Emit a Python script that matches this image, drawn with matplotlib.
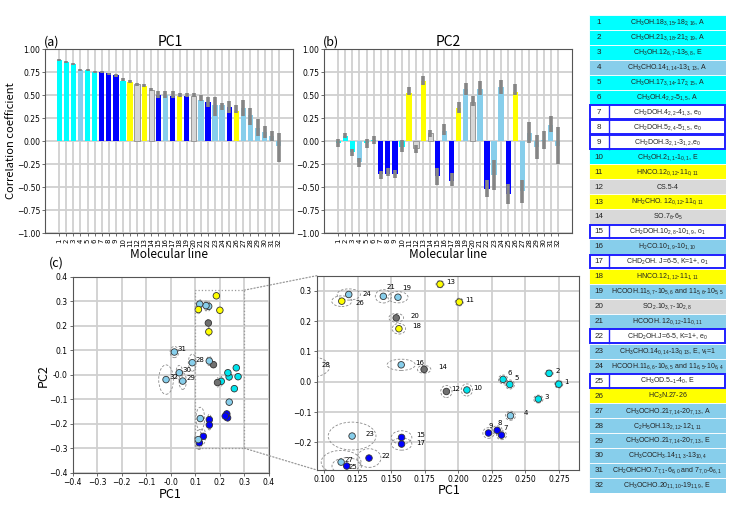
import matplotlib
matplotlib.use('Agg')
import matplotlib.pyplot as plt
from matplotlib.patches import Ellipse, Rectangle, ConnectionPatch
import numpy as np

plt.rcParams['font.family'] = ['DejaVu Sans']
plt.rcParams['mathtext.fontset'] = 'custom'
plt.rcParams['mathtext.rm'] = 'Liberation Sans'
plt.rcParams['mathtext.it'] = 'Liberation Sans:italic'
plt.rcParams['mathtext.default'] = 'regular'

# ---------------- data ----------------
lines = list(range(1, 33))

pc1_val = [0.885, 0.863, 0.84, 0.78, 0.77, 0.75, 0.75, 0.737, 0.72, 0.66, 0.643, 0.62,
           0.60, 0.56, 0.505, 0.505, 0.495, 0.495, 0.495, 0.49, 0.45, 0.43, 0.39, 0.39,
           0.375, 0.33, 0.365, 0.29, 0.15, 0.10, 0.055, -0.055]
pc1_lo = [0.87, 0.855, 0.83, 0.76, 0.76, 0.74, 0.74, 0.72, 0.70, 0.655, 0.635, 0.605,
          0.59, 0.55, 0.47, 0.47, 0.47, 0.48, 0.48, 0.48, 0.44, 0.37, 0.28, 0.34,
          0.31, 0.31, 0.28, 0.18, 0.06, 0.04, 0.00, -0.23]
pc1_hi = [0.89, 0.875, 0.85, 0.79, 0.785, 0.765, 0.765, 0.745, 0.73, 0.685, 0.665, 0.635,
          0.625, 0.575, 0.55, 0.55, 0.55, 0.53, 0.53, 0.53, 0.50, 0.48, 0.48, 0.42,
          0.44, 0.40, 0.45, 0.36, 0.24, 0.17, 0.11, 0.09]
pc1_col = ['c', 'c', 'c', 's', 'c', 'c', 'b', 'b', 'b', 'c', 'y', 'g', 'y', 'g', 'b', 's',
           'b', 'y', 'b', 'g', 's', 'b', 's', 's', 'b', 'y', 's', 's', 's', 's', 's', 's']

pc2_val = [-0.02, 0.06, -0.12, -0.23, -0.02, 0.01, -0.36, -0.35, -0.35, -0.06, 0.53, -0.07,
           0.66, 0.09, -0.38, 0.11, -0.43, 0.36, 0.57, 0.43, 0.57, -0.52, -0.37, 0.59,
           -0.57, 0.54, -0.54, 0.09, -0.06, 0.01, 0.18, -0.05]
pc2_lo = [-0.06, 0.04, -0.16, -0.28, -0.07, -0.03, -0.41, -0.38, -0.40, -0.12, 0.50, -0.13,
          0.61, 0.05, -0.47, 0.07, -0.49, 0.31, 0.50, 0.38, 0.50, -0.61, -0.53, 0.51,
          -0.68, 0.50, -0.67, -0.02, -0.19, -0.08, 0.10, -0.25]
pc2_hi = [0.02, 0.09, -0.08, -0.18, 0.03, 0.06, -0.32, -0.29, -0.31, 0.01, 0.59, -0.04,
          0.71, 0.12, -0.29, 0.19, -0.34, 0.43, 0.63, 0.49, 0.66, -0.42, -0.20, 0.67,
          -0.46, 0.62, -0.42, 0.21, 0.07, 0.11, 0.27, 0.16]
pc2_col = ['c', 'c', 'c', 's', 'c', 'c', 'b', 'b', 'b', 'c', 'y', 'g', 'y', 'g', 'b', 's',
           'b', 'y', 's', 'g', 's', 'b', 's', 's', 'b', 'y', 's', 's', 's', 's', 's', 's']

line_cat = ['c', 'c', 'c', 's', 'c', 'c', 'b', 'b', 'b', 'c', 'y', 'g', 'y', 'g', 'b', 's',
            'b', 'y', 's', 'g', 's', 'b', 's', 's', 'b', 'y', 's', 's', 's', 's', 's', 's']

sc_x = [0.2749, 0.2677, 0.2597, 0.2389, 0.2384, 0.2334, 0.2322, 0.229, 0.2225, 0.2064,
        0.2007, 0.1911, 0.1864, 0.1745, 0.1577, 0.1574, 0.1577, 0.1557, 0.155, 0.1537,
        0.1441, 0.1334, 0.1208, 0.1183, 0.1168, 0.1131, 0.1126, 0.088, 0.049, 0.035,
        0.015, -0.019]
sc_y = [-0.008, 0.028, -0.057, -0.112, -0.009, 0.008, -0.176, -0.160, -0.169, -0.027,
        0.263, -0.032, 0.322, 0.041, -0.1835, 0.056, -0.2055, 0.175, 0.279, 0.211,
        0.282, -0.2516, -0.179, 0.288, -0.278, 0.266, -0.265, 0.049, -0.026, 0.008,
        0.0925, -0.020]
ell_w = [0.006, 0.006, 0.007, 0.0075, 0.007, 0.007, 0.0075, 0.0075, 0.0084, 0.0084,
         0.006, 0.0084, 0.006, 0.010, 0.0153, 0.021, 0.0153, 0.010, 0.015, 0.011,
         0.012, 0.0178, 0.0356, 0.0173, 0.022, 0.015, 0.0297, 0.032, 0.03, 0.027,
         0.035, 0.06]
ell_h = [0.026, 0.022, 0.026, 0.030, 0.030, 0.029, 0.030, 0.030, 0.035, 0.040,
         0.026, 0.040, 0.024, 0.026, 0.044, 0.037, 0.040, 0.035, 0.037, 0.029,
         0.044, 0.0615, 0.092, 0.037, 0.055, 0.035, 0.077, 0.07, 0.068, 0.06,
         0.046, 0.12]

table_labels = [
    r'CH$_3$OH.18$_{3,15}$-18$_{2,16}$, A',
    r'CH$_3$OH.21$_{3,18}$-21$_{2,19}$, A',
    r'CH$_3$OH.12$_{6,7}$-13$_{5,8}$, E',
    r'CH$_3$CHO.14$_{1,14}$-13$_{1,13}$, A',
    r'CH$_3$OH.17$_{3,14}$-17$_{2,15}$, A',
    r'CH$_3$OH.4$_{2,2}$-5$_{1,5}$, A',
    r'CH$_2$DOH.4$_{2,2}$-4$_{1,3}$, e$_0$',
    r'CH$_2$DOH.5$_{2,4}$-5$_{1,5}$, e$_0$',
    r'CH$_2$DOH.3$_{2,1}$-3$_{1,2}$,e$_0$',
    r'CH$_3$OH.2$_{1,1}$-1$_{0,1}$, E',
    r'HNCO.12$_{0,12}$-11$_{0,11}$',
    r'CS.5-4',
    r'NH$_2$CHO. 12$_{0,12}$-11$_{0,11}$',
    r'SO.7$_6$-6$_5$',
    r'CH$_2$DOH.10$_{2,8}$-10$_{1,9}$, o$_1$',
    r'H$_2$CO.10$_{1,9}$-10$_{1,10}$',
    r'CHD$_2$OH. $J$=6-5, $K$=1+, o$_1$',
    r'HNCO.12$_{1,12}$-11$_{1,11}$',
    r'HCOOH.11$_{5,7}$-10$_{5,6}$ and 11$_{5,6}$-10$_{5,5}$',
    r'SO$_2$.10$_{3,7}$-10$_{2,8}$',
    r'HCOOH. 12$_{0,12}$-11$_{0,11}$',
    r'CHD$_2$OH.$J$=6-5, $K$=1+, e$_0$',
    r'CH$_3$CHO.14$_{0,14}$-13$_{0,13}$, E, $v_t$=1',
    r'HCOOH.11$_{6,6}$-10$_{6,5}$ and 11$_{6,5}$-10$_{6,4}$',
    r'CH$_3$OD.5$_{-1}$-4$_0$, E',
    r'HC$_3$N.27-26',
    r'CH$_3$OCHO.21$_{7,14}$-20$_{7,13}$, A',
    r'C$_2$H$_5$OH.13$_{2,12}$-12$_{1,11}$',
    r'CH$_3$OCHO.21$_{7,14}$-20$_{7,13}$, E',
    r'CH$_3$COCH$_3$.14$_{11,3}$-13$_{10,4}$',
    r'CH$_2$OHCHO.7$_{7,1}$-6$_{6,0}$ and 7$_{7,0}$-6$_{6,1}$',
    r'CH$_3$OCHO.20$_{11,10}$-19$_{11,9}$, E',
]

# ---------------- styles ----------------
bar_colors = {'c': '#00FFFF', 's': '#87CEEB', 'b': '#0000FF', 'y': '#FFFF00', 'g': '#D6D6D6'}
pt_colors = {'c': '#00E5EE', 's': '#87CEEB', 'b': '#0000FF', 'y': '#FFFF00', 'g': '#707070'}
tab_colors = {'c': '#00FFFF', 's': '#87CEEB', 'b': '#FFFFFF', 'y': '#FFFF00', 'g': '#D9D9D9'}
LABF = ['Noto Sans CJK JP', 'DejaVu Sans']
GRID = '#D0D0D0'

W, H = 755, 512
fig = plt.figure(figsize=(W / 100, H / 100), dpi=100)


def fr(l, t, r, b):
    return [l / W, 1 - b / H, (r - l) / W, (b - t) / H]


def style_ax(ax):
    for s in ax.spines.values():
        s.set_color('#555555')
        s.set_linewidth(0.8)
    ax.tick_params(labelsize=5.5, length=2, width=0.6, color='#555555', pad=1.5)
    ax.set_axisbelow(True)
    ax.grid(True, color=GRID, lw=1.3)


def bar_panel(ax, vals, lo, hi, cols):
    style_ax(ax)
    colors = [bar_colors[c] for c in cols]
    edges = ['#999999' if c == 'g' else 'none' for c in cols]
    ax.bar(lines, vals, width=0.75, color=colors, edgecolor=edges, linewidth=0.7, zorder=2)
    ax.vlines(lines, lo, hi, colors='#858585', lw=2.6, zorder=3)
    ax.set_xlim(-1, 34)
    ax.set_ylim(-1, 1)
    ax.set_yticks(np.arange(-1, 1.01, 0.25))
    ax.set_yticklabels(['%.2f' % v if v >= 0 else '\u2212%.2f' % -v
                        for v in np.arange(-1, 1.01, 0.25)])
    ax.set_xticks(lines)
    ax.set_xticklabels([str(i) for i in lines], rotation=90, fontsize=5)


ax_a = fig.add_axes(fr(45, 49.3, 293, 233.3))
bar_panel(ax_a, pc1_val, pc1_lo, pc1_hi, pc1_col)
ax_b = fig.add_axes(fr(324, 49.3, 572, 233.3))
bar_panel(ax_b, pc2_val, pc2_lo, pc2_hi, pc2_col)


def ftext(x, y, s, size, **kw):
    fig.text(x / W, 1 - y / H, s, fontsize=size, family=LABF, ha='center', va='center', **kw)


ftext(51.7, 42.5, '(a)', 9)
ftext(330.7, 42.5, '(b)', 9)
ftext(170, 42, 'PC1', 10)
ftext(448, 42, 'PC2', 10)
ftext(169, 255, 'Molecular line', 8.5)
ftext(448, 255, 'Molecular line', 8.5)
ftext(11, 141, 'Correlation coefficient', 8, rotation=90)
ftext(56.7, 263.5, '(c)', 9)
ftext(170, 495, 'PC1', 9)
ftext(449, 490, 'PC1', 9)
ftext(43, 376, 'PC2', 9, rotation=90)


def scatter_panel(ax, labelled, offsets):
    style_ax(ax)
    for i in range(32):
        ax.add_patch(Ellipse((sc_x[i], sc_y[i]), ell_w[i], ell_h[i], fill=False,
                             ec='#8A8A8A', ls=(0, (3, 2)), lw=0.6, zorder=2))
    ax.scatter(sc_x, sc_y, s=22, c=[pt_colors[c] for c in line_cat],
               edgecolors='#333333', linewidths=0.6, zorder=3)
    for i in labelled:
        dx, dy = offsets.get(i + 1, (7.5, 2.5))
        ax.annotate(str(i + 1), (sc_x[i], sc_y[i]), xytext=(dx * 0.72, dy * 0.72),
                    textcoords='offset points', fontsize=5, ha='center', va='center',
                    annotation_clip=False, zorder=4)


ax_cl = fig.add_axes(fr(72.7, 276.7, 268.7, 472.7))
scatter_panel(ax_cl, range(27, 32), {28: (8, 2.7), 29: (8, 3), 30: (8, 2.7), 31: (8, 3), 32: (8, 2.7)})
ax_cl.set_xlim(-0.4, 0.4)
ax_cl.set_ylim(-0.4, 0.4)
tk = np.round(np.arange(-0.4, 0.41, 0.1), 1)
ax_cl.set_xticks(tk)
ax_cl.set_yticks(tk)
lab = ['%.1f' % v if v >= 0 else '\u2212%.1f' % -v for v in tk]
lab = [l.replace('\u22120.0', '0.0') for l in lab]
ax_cl.set_xticklabels(lab)
ax_cl.set_yticklabels(lab)
ax_cl.add_patch(Rectangle((0.1, -0.3), 0.2, 0.645, fill=False, ec='#999999', ls=':', lw=0.9, zorder=4))

right_off = {13: (11, 2), 11: (10.7, 2.3), 24: (17.7, 0), 26: (18, -1.7), 21: (8, 9.7),
             19: (8.3, 9.3), 20: (18.3, 1.7), 18: (18, 2.3), 16: (18.3, 2), 14: (18.7, 2),
             12: (9.7, 2), 10: (10.7, 2.3), 6: (6.7, 6.7), 5: (6.7, 6.7), 3: (8.3, 2.3),
             4: (15.3, 2.3), 2: (8.3, 2.7), 1: (8, 2.3), 9: (2.7, 7.3), 8: (2.3, 7.3),
             7: (4, 7.3), 23: (18.3, 2.3), 15: (18.7, 2.6), 17: (18.7, 0.8), 22: (17.3, 2.3),
             27: (8, 2), 25: (6.3, -1), 28: (17.8, 2.1)}
ax_cr = fig.add_axes(fr(316.7, 275.7, 579, 470))
scatter_panel(ax_cr, range(0, 28), right_off)
ax_cr.set_xlim(0.0944, 0.29)
ax_cr.set_ylim(-0.291, 0.35)
xt = np.arange(0.1, 0.276, 0.025)
ax_cr.set_xticks(xt)
ax_cr.set_xticklabels(['%.3f' % v for v in xt])
yt = np.round(np.arange(-0.2, 0.31, 0.1), 1)
ax_cr.set_yticks(yt)
ylab = ['%.1f' % v if v >= 0 else '\u2212%.1f' % -v for v in yt]
ax_cr.set_yticklabels([l.replace('\u22120.0', '0.0') for l in ylab])

for ya, yb in [(0.345, 1), (-0.3, 0)]:
    con = ConnectionPatch(xyA=(0.3, ya), coordsA=ax_cl.transData, xyB=(0, yb),
                          coordsB=ax_cr.transAxes, ls=':', color='#999999', lw=0.9)
    fig.add_artist(con)

# ---------------- table ----------------
ax_t = fig.add_axes(fr(589, 15, 726, 493))
ax_t.set_xlim(0, 1)
ax_t.set_ylim(32, 0)
ax_t.axis('off')
ncol = 0.146
for i, (c, txt) in enumerate(zip(line_cat, table_labels)):
    if c == 'b':
        ax_t.add_patch(Rectangle((0.005, i + 0.04), 0.99, 0.92, fc='white', ec='#1F1FFF', lw=1.4, zorder=3))
        ax_t.plot([ncol, ncol], [i + 0.04, i + 0.96], color='#1F1FFF', lw=1.0, zorder=3)
    else:
        ax_t.add_patch(Rectangle((0, i), 1, 1, fc=tab_colors[c], ec='white', lw=0.6, zorder=2))
    ax_t.text(ncol / 2, i + 0.52, str(i + 1), fontsize=5.8, family=['Liberation Sans'],
              ha='center', va='center', color='#222222', zorder=4)
    ax_t.text((1 + ncol) / 2, i + 0.52, txt, fontsize=5.0, family=['Liberation Sans'],
              ha='center', va='center', color='#222222', zorder=4)

fig.savefig('out.png', dpi=100)
